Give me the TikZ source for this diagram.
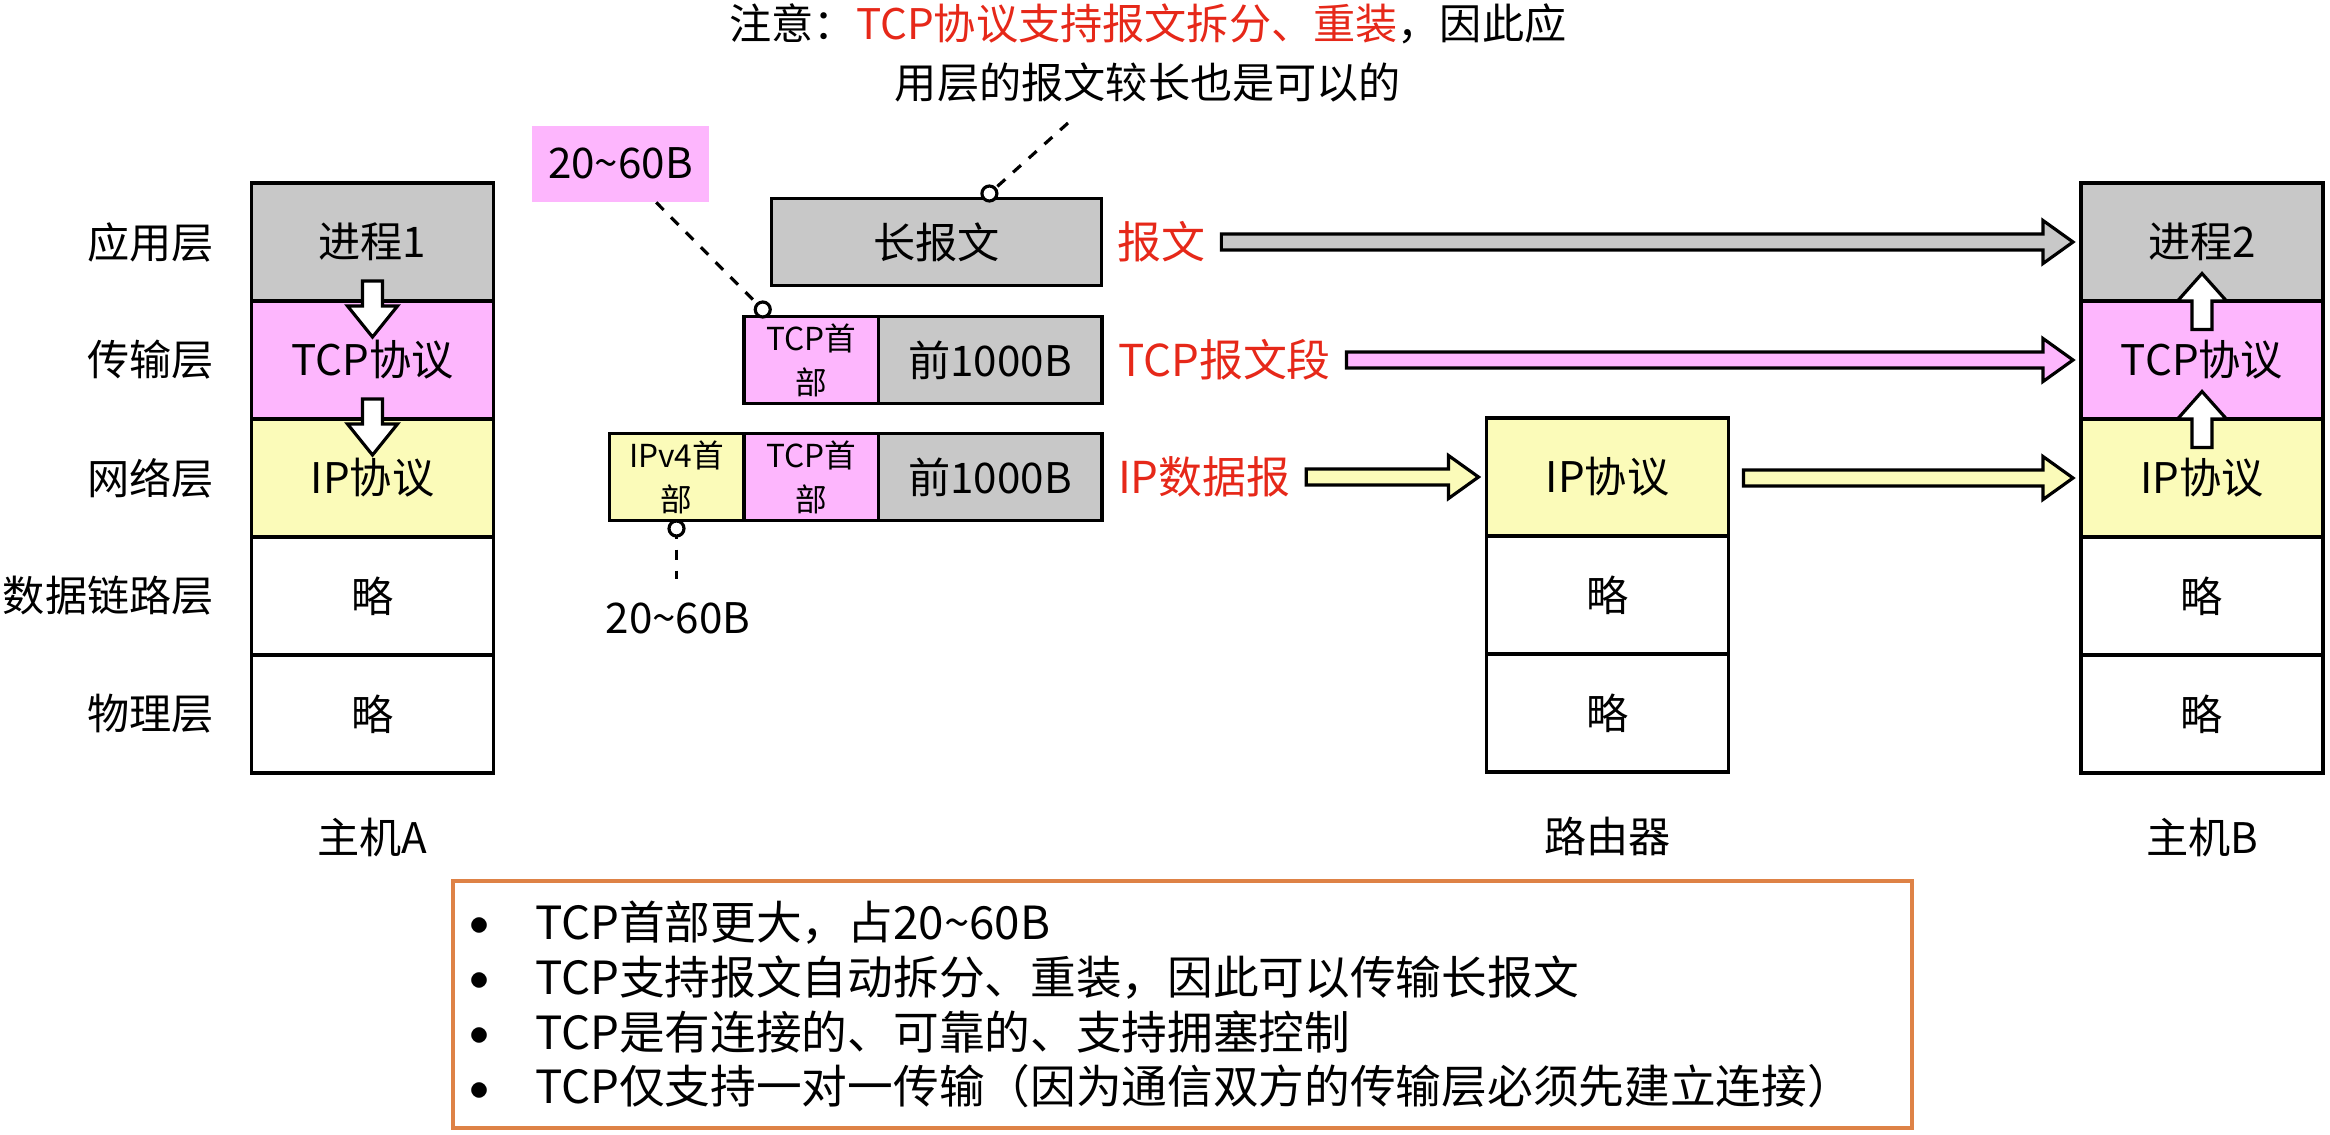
\documentclass[tikz,border=0pt]{standalone}
\usepackage{fontspec}
\setmainfont{Noto Sans CJK SC}
\usetikzlibrary{calc,positioning}

\definecolor{appgray}{RGB}{200,200,200}
\definecolor{tcppink}{RGB}{253,182,253}
\definecolor{ipyellow}{RGB}{251,251,185}
\definecolor{notered}{RGB}{230,40,25}
\definecolor{boxorange}{RGB}{222,130,70}

\tikzset{
	cell/.style={draw, line width=1pt, outer sep=0pt, inner sep=0pt,
		minimum width=2.42cm, minimum height=1.18cm, font=\fontsize{12}{14}\selectfont},
	appcell/.style={cell, fill=appgray},
	tcpcell/.style={cell, fill=tcppink},
	ipcell/.style={cell, fill=ipyellow},
	layername/.style={inner sep=0pt, font=\fontsize{12}{14}\selectfont},
	pkt/.style={draw, line width=1pt, outer sep=0pt, inner sep=0pt,
		minimum height=0.87cm, font=\fontsize{12}{14}\selectfont},
	hdr/.style={pkt, minimum width=1.345cm, align=center, font=\fontsize{9}{12.5}\selectfont},
	pktname/.style={inner sep=0pt, text=notered, font=\fontsize{12.5}{14}\selectfont},
	fatarrow/.style={draw, line width=0.9pt, line join=miter},
	callout/.style={dashed, line width=0.9pt},
	pin/.style={draw, fill=white, line width=0.9pt}
}

% block arrow to the right: from node, to node, fill
\newcommand{\rightarr}[3]{%
	\draw[fatarrow, fill=#3] let \p1=($(#1.east |- #2.west)+(0.15,0)$), \p2=($(#2.west)+(-0.08,0)$) in
	(\x1,\y1+0.8mm) -- (\x2-3mm,\y1+0.8mm) -- (\x2-3mm,\y1+2.15mm) -- (\x2,\y1)
	-- (\x2-3mm,\y1-2.15mm) -- (\x2-3mm,\y1-0.8mm) -- (\x1,\y1-0.8mm) -- cycle;}
% block arrow down across a layer border
\newcommand{\downarr}[2]{%
	\draw[fatarrow, fill=white] let \p1=(#1.south), \p2=(#2.north) in
	(\x1-1mm,\y1+2mm) -- (\x1-1mm,\y1-0.5mm) -- (\x1-2.5mm,\y1-0.5mm) -- (\x1,\y2-3.6mm)
	-- (\x1+2.5mm,\y1-0.5mm) -- (\x1+1mm,\y1-0.5mm) -- (\x1+1mm,\y1+2mm) -- cycle;}
% block arrow up across a layer border
\newcommand{\uparr}[2]{%
	\draw[fatarrow, fill=white] let \p1=(#1.north), \p2=(#2.south) in
	(\x1-1mm,\y1-2.85mm) -- (\x1-1mm,\y1) -- (\x1-2.45mm,\y1) -- (\x1,\y2+2.75mm)
	-- (\x1+2.45mm,\y1) -- (\x1+1mm,\y1) -- (\x1+1mm,\y1-2.85mm) -- cycle;}
% bullet of the summary
\newcommand{\bul}{\makebox[0.54cm][c]{\raisebox{0.15ex}{\scalebox{0.95}{$\bullet$}}}\hspace{0.28cm}}

\begin{document}
\begin{tikzpicture}

	\useasboundingbox (0,0) rectangle (23.30,-11.34);

	% host A
	\node[appcell] (a1) at (3.725,-2.42) {进程1};
	\node[tcpcell, below=0 of a1] (a2) {TCP协议};
	\node[ipcell, below=0 of a2] (a3) {IP协议};
	\node[cell, below=0 of a3] (a4) {略};
	\node[cell, below=0 of a4] (a5) {略};
	\node[layername] (hostA) at ($(a5.south)+(0,-0.64)$) {主机A};

	% layer names
	\foreach \i/\t in {1/应用层, 2/传输层, 3/网络层, 4/数据链路层, 5/物理层}
		\node[layername, left=0.37 of a\i] (lay\i) {\t};

	% router
	\node[ipcell] (r1) at (16.075,-4.77) {IP协议};
	\node[cell, below=0 of r1] (r2) {略};
	\node[cell, below=0 of r2] (r3) {略};
	\node[layername] (router) at ($(r3.south)+(0,-0.64)$) {路由器};

	% host B
	\node[appcell] (b1) at (22.02,-2.42) {进程2};
	\node[tcpcell, below=0 of b1] (b2) {TCP协议};
	\node[ipcell, below=0 of b2] (b3) {IP协议};
	\node[cell, below=0 of b3] (b4) {略};
	\node[cell, below=0 of b4] (b5) {略};
	\node[layername] (hostB) at ($(b5.south)+(0,-0.64)$) {主机B};

	% message, segment, datagram
	\node[pkt, fill=appgray, minimum width=3.30cm] (msg) at (9.366,-2.42) {长报文};
	\node[hdr, fill=tcppink] (th1) at (8.11,-3.60) {TCP首\\部};
	\node[pkt, fill=appgray, minimum width=2.236cm, right=0 of th1] (d1) {前1000B};
	\node[hdr, fill=ipyellow] (ih) at (6.765,-4.77) {IPv4首\\部};
	\node[hdr, fill=tcppink, right=0 of ih] (th2) {TCP首\\部};
	\node[pkt, fill=appgray, minimum width=2.236cm, right=0 of th2] (d2) {前1000B};

	\node[pktname, right=0.155 of msg] (n1) {报文};
	\node[pktname, right=0.155 of d1] (n2) {TCP报文段};
	\node[pktname, right=0.155 of d2] (n3) {IP数据报};

	% arrows between layers
	\downarr{a1}{a2}
	\downarr{a2}{a3}
	\uparr{b2}{b1}
	\uparr{b3}{b2}

	% peer arrows
	\rightarr{n1}{b1}{appgray}
	\rightarr{n2}{b2}{tcppink}
	\rightarr{n3}{r1}{ipyellow}
	\rightarr{r1}{b3}{ipyellow}

	% note on top
	\node[align=center, font=\fontsize{12}{16.8}\selectfont] (note) at (11.48,-0.525)
		{注意：\textcolor{notered}{TCP协议支持报文拆分、重装}，因此应\\用层的报文较长也是可以的};
	\coordinate (c1) at (10.68,-1.23);
	\coordinate (p1) at ($(msg.north west)!0.66!(msg.north east)+(0,0.05)$);
	\draw[callout] (c1) -- (p1);
	\draw[pin] (p1) circle (0.075);

	% header sizes
	\node[fill=tcppink, minimum width=1.77cm, minimum height=0.76cm, inner sep=0pt,
		font=\fontsize{12}{14}\selectfont] (tcpsize) at (6.205,-1.637) {20\textasciitilde60B};
	\coordinate (c2) at ($(tcpsize.south west)!0.7!(tcpsize.south east)$);
	\coordinate (p2) at ($(th1.north west)+(0.19,0.07)$);
	\draw[callout] (c2) -- (p2);
	\draw[pin] (p2) circle (0.075);

	\coordinate (p3) at ($(ih.south)+(0,-0.08)$);
	\coordinate (c3) at ($(ih.south)+(0,-0.58)$);
	\node[layername] (ipsize) at (6.78,-6.18) {20\textasciitilde60B};
	\draw[callout] (p3) -- (c3);
	\draw[pin] (p3) circle (0.075);

	% summary
	\node[draw=boxorange, line width=1.1pt, text width=14.59cm, minimum height=2.47cm,
		inner xsep=0pt, inner ysep=0pt, align=left, font=\fontsize{13}{15.6}\selectfont]
		(summary) at (11.825,-10.045)
		{\bul TCP首部更大，占20\textasciitilde60B\\
		 \bul TCP支持报文自动拆分、重装，因此可以传输长报文\\
		 \bul TCP是有连接的、可靠的、支持拥塞控制\\
		 \bul TCP仅支持一对一传输（因为通信双方的传输层必须先建立连接）};

\end{tikzpicture}
\end{document}
